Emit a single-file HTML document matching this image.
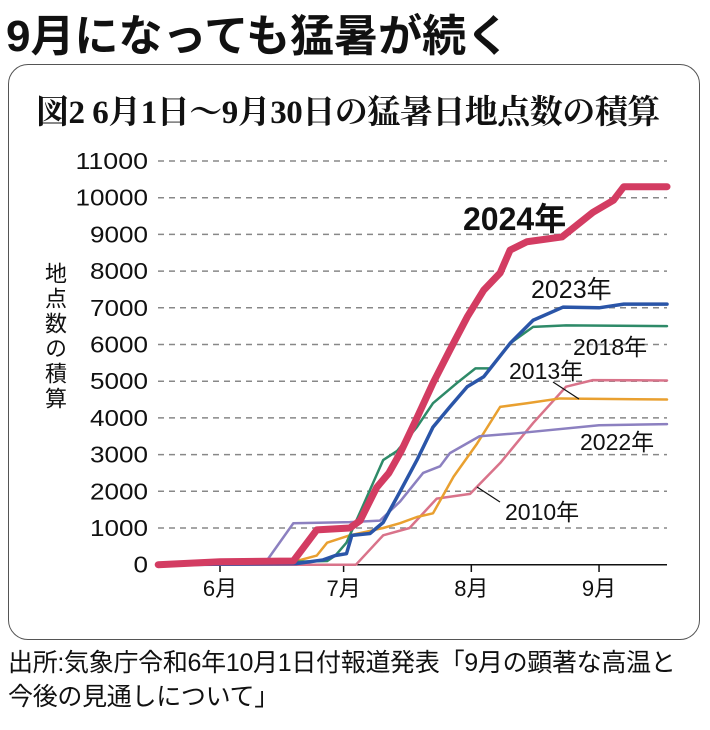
<!DOCTYPE html>
<html><head><meta charset="utf-8"><style>
body{margin:0;width:710px;height:730px;background:#fff;font-family:"Liberation Sans","Noto Sans CJK JP",sans-serif;overflow:hidden;position:relative}
.t{position:absolute;white-space:nowrap}
</style></head><body>
<div class="t" style="left:6px;top:0px;font-size:44px;font-weight:bold;color:#111">9月になっても猛暑が続く</div>
<div style="position:absolute;left:8px;top:64px;width:690px;height:574px;border:1.5px solid #555;border-radius:20px"></div>
<div class="t" style="left:36px;top:86px;font-size:33px;font-weight:bold;font-family:'Liberation Serif','Noto Serif CJK SC',serif;color:#111;letter-spacing:-0.5px">図2 6月1日〜9月30日の猛暑日地点数の積算</div>
<div class="t" style="left:42px;top:262px;font-size:22px;writing-mode:vertical-rl;line-height:24px;color:#111;letter-spacing:3px">地点数の積算</div>
<div class="t" style="left:8px;top:646px;font-size:25px;line-height:34px;color:#111;letter-spacing:-0.3px">出所:気象庁令和6年10月1日付報道発表「9月の顕著な高温と<br>今後の見通しについて」</div>
<svg id="c" width="710" height="730" style="position:absolute;left:0;top:0"></svg>
<script>
const yTicks=[0,1000,2000,3000,4000,5000,6000,7000,8000,9000,10000,11000];
const months=["6月","7月","8月","9月"];
const monthDays=[0,30,61,92];
const d2010=[[-15,0],[33,0],[39.6,800],[46,1000],[52.6,1800],[60.7,1930],[68,2770],[76,3860],[84,4850],[90.5,5030],[108.5,5020]];
const d2013=[[-15,0],[18.5,100],[23.5,250],[26,600],[31.5,800],[39.6,1000],[43.7,1130],[47.8,1300],[51.7,1400],[56.7,2400],[62.4,3300],[68,4300],[74.5,4400],[82.5,4530],[108.5,4500]];
const d2022=[[-15,0],[9,30],[11.3,100],[17.8,1130],[31.5,1160],[38.8,1200],[43.7,1720],[49.3,2500],[53.4,2680],[55.8,3040],[63,3500],[72,3580],[92,3800],[108.5,3830]];
const d2018=[[-15,0],[26,100],[28,250],[30.7,600],[35,1680],[39.6,2850],[43,3100],[47.8,3750],[51.7,4400],[57.5,4950],[62,5350],[65.5,5350],[70.4,6030],[76,6480],[84,6520],[108.5,6500]];
const d2023=[[-15,0],[18.5,30],[25,130],[28,250],[30.7,300],[32,800],[36.4,850],[39.6,1150],[43.5,1950],[47.8,2850],[51.7,3750],[55.8,4300],[60,4850],[64,5120],[70.4,6030],[76,6660],[83.3,7020],[92,7000],[98,7100],[108.5,7100]];
const d2024=[[-15,0],[0,80],[17.8,100],[23.5,950],[31.5,1000],[34,1200],[38,2100],[41,2500],[44,3100],[47.8,4000],[51.7,4950],[55.8,5850],[60,6750],[64,7480],[68,7950],[70.4,8570],[74.5,8800],[83,8930],[90.5,9600],[95.5,9930],[98,10300],[108.5,10300]];
const X=d=>220+d*4.12, Y=v=>564.7-v*0.0367;
const svg=document.getElementById('c'),NS="http://www.w3.org/2000/svg";
function mk(t,a){const e=document.createElementNS(NS,t);for(const k in a)e.setAttribute(k,a[k]);svg.appendChild(e);return e;}
yTicks.forEach(v=>{
 if(v>0){const g=mk('line',{x1:158,x2:667,y1:Y(v),y2:Y(v),stroke:'#888','stroke-width':1.5,'stroke-dasharray':'6,5'});
 
 }
 const t=mk('text',{x:148,y:Y(v)+8,'text-anchor':'end','font-size':23,fill:'#111','textLength':String(v).length*14.5,'lengthAdjust':'spacingAndGlyphs'});t.textContent=v;
 
 
});
const ax=mk('line',{x1:158,x2:667,y1:564.7,y2:564.7,stroke:'#111','stroke-width':1.5});


months.forEach((m,i)=>{
 const x=X(monthDays[i]);
 const tk=mk('line',{x1:x,x2:x,y1:564.7,y2:572,stroke:'#111','stroke-width':1.5});
 
 
 const t=mk('text',{x:x,y:596,'text-anchor':'middle','font-size':22,fill:'#111'});t.textContent=m;
 
 
});
function line(d,col,w,name){const p=mk('polyline',{points:d.map(q=>X(q[0])+','+Y(q[1])).join(' '),fill:'none',stroke:col,'stroke-width':w,'stroke-linejoin':'round','stroke-linecap':'round'});
 
 }
line(d2010,'#d9738a',2.5,'line-2010');
line(d2013,'#e9a030',2.5,'line-2013');
line(d2022,'#8c80c0',2.5,'line-2022');
line(d2018,'#2e8a68',2.5,'line-2018');
line(d2023,'#2a55a8',3.5,'line-2023');
line(d2024,'#d33c62',7,'line-2024');
[[553,382,579,399],[477,487,500,502]].forEach(l=>{const e=mk('line',{x1:l[0],y1:l[1],x2:l[2],y2:l[3],stroke:'#111','stroke-width':1.2});
 
 });
[["2024年",463,230,32,'bold'],["2023年",531,298,25,'normal'],["2018年",573,355,23,'normal'],["2013年",509,379,23,'normal'],["2022年",580,450,23,'normal'],["2010年",505,520,23,'normal']].forEach(a=>{
 const t=mk('text',{x:a[1],y:a[2],'font-size':a[3],'font-weight':a[4],fill:'#111'});t.textContent=a[0];
 
 
});
</script>
</body></html>
